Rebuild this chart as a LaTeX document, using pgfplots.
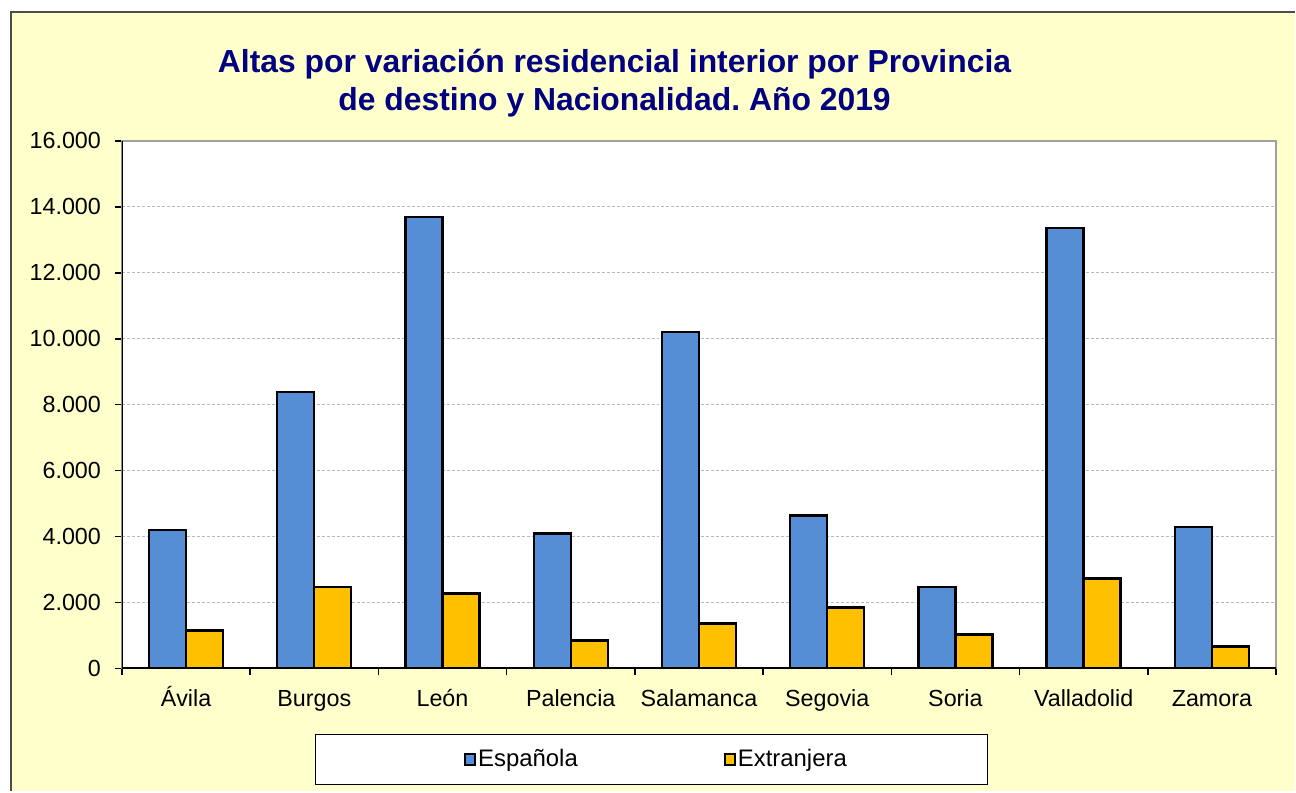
\documentclass[border=0pt]{standalone}
\usepackage{pgfplots}
\pgfplotsset{compat=1.18}
\usetikzlibrary{backgrounds}
\usepackage{fontspec}
\setmainfont{Liberation Sans}
\frenchspacing
\definecolor{bgyellow}{HTML}{FFFFCC}
\definecolor{esp}{HTML}{558ED5}
\definecolor{ext}{HTML}{FFC000}
\definecolor{titleblue}{HTML}{000080}

\begin{document}
\begin{tikzpicture}
\begin{axis}[
    width=577.5bp, height=264bp, scale only axis,
    ybar=0pt, bar width=18.5bp,
    xmin=-0.5, xmax=8.5,
    ymin=0, ymax=16000,
    ytick={0,2000,...,16000},
    xtick={-0.5,0.5,...,8.5},
    x tick label as interval,
    xticklabels={Ávila,Burgos,León,Palencia,Salamanca,Segovia,Soria,Valladolid,Zamora},
    xticklabel style={text height=12bp, text depth=3bp},
    scaled y ticks=false,
    /pgf/number format/assume math mode=true,
    yticklabel style={/pgf/number format/fixed, /pgf/number format/1000 sep={.}, xshift=-3.5bp},
    tick label style={font=\fontsize{11.7}{14}\selectfont},
    tick align=outside, xtick pos=bottom, ytick pos=left,
    major tick length=3.5bp,
    tick style={black, line width=0.8bp},
    axis line style={draw=gray!75, line width=1bp},
    ymajorgrids, grid style={dash pattern=on 1.5bp off 1bp, gray!55, line width=0.5bp},
    axis background/.style={fill=white},
    legend columns=2,
    area legend,
    legend image code/.code={\draw[#1,line width=0.9bp] (0bp,-2.6bp) rectangle (5.2bp,2.6bp);},
    legend style={at={(0.2961,-0.1723)}, anchor=west, draw=none, fill=none,
        inner sep=0pt, nodes={inner sep=1bp},
        font=\fontsize{12}{14}\selectfont,
        /tikz/every even column/.append style={column sep=72bp}},
]
\addplot[fill=esp, draw=black, line width=1.2bp] coordinates {
    (0,4200) (1,8390) (2,13700) (3,4090) (4,10210) (5,4640) (6,2480) (7,13360) (8,4300)};
\addlegendentry{Española}
\addplot[fill=ext, draw=black, line width=1.2bp] coordinates {
    (0,1150) (1,2480) (2,2270) (3,850) (4,1360) (5,1850) (6,1030) (7,2730) (8,670)};
\addlegendentry{Extranjera}
\draw[black, line width=1bp] (rel axis cs:0,1) -- (rel axis cs:0,0) -- (rel axis cs:1,0);
\coordinate (O) at (rel axis cs:0,0);
\end{axis}

% chart frame, title and legend box, placed from the plot corner
\begin{scope}[on background layer, shift={(O)}, x=1bp, y=1bp]
\fill[white] (-61,-61.5) rectangle ++(648,396);
\fill[bgyellow] (-55.5,-61.5) rectangle (587,328.5);
\draw[black!70, line width=1bp] (-55.5,-61.5) -- (-55.5,328.5) -- (587,328.5);
\fill[white, draw=black, line width=0.6bp] (97,-58) rectangle (433,-33);
\end{scope}
\begin{scope}[shift={(O)}, x=1bp, y=1bp]
\node[anchor=base, font=\bfseries\fontsize{16}{19}\selectfont, text=titleblue]
  at (246.5,298) {Altas por variación residencial interior por Provincia};
\node[anchor=base, font=\bfseries\fontsize{16}{19}\selectfont, text=titleblue]
  at (246.5,279) {de destino y Nacionalidad. Año 2019};
\end{scope}
\end{tikzpicture}
\end{document}
